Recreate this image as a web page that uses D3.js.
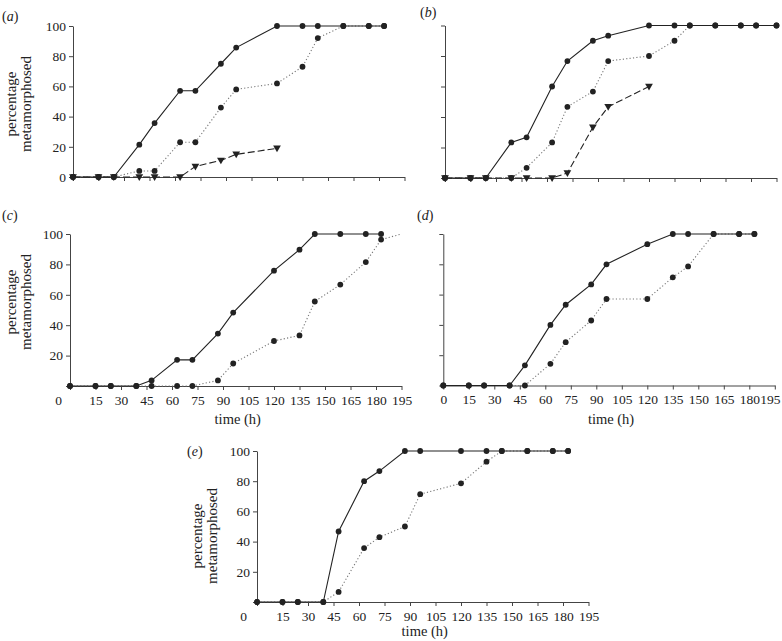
<!DOCTYPE html>
<html>
<head>
<meta charset="utf-8">
<script src="https://cdn.jsdelivr.net/npm/d3@7"></script>
<style>
  body { margin: 0; background: #fff; }
  svg { display: block; }
  text { font-family: "Liberation Serif", "DejaVu Serif", serif; fill: #222; }
</style>
</head>
<body>
<svg id="chart" width="782" height="641"></svg>
<script>
// sampling times (h)
const times = [0, 15, 24, 39, 48, 63, 72, 87, 96, 120, 135, 144, 159, 174, 183];
const timesLong = [0, 15, 24, 39, 48, 63, 72, 87, 96, 120, 135, 144, 159, 174, 183, 195];
const xTicks = [0, 15, 30, 45, 60, 75, 90, 105, 120, 135, 150, 165, 180, 195];
const yTicks = [0, 20, 40, 60, 80, 100];

// percentage metamorphosed
const aSolid  = [0, 0, 0, 21.4, 35.7, 57.1, 57.1, 75, 85.7, 100, 100, 100, 100, 100, 100];
const aDotted = [0, 0, 0, 4, 4, 23, 23, 46, 58, 62, 73, 92, 100, 100, 100];
const aDashed = [0, 0, 0, 0, 0, 0, 7, 11, 15, 19];

const bSolid  = [0, 0, 0, 23.3, 26.7, 60, 76.7, 90, 93.3, 100, 100, 100, 100, 100, 100, 100];
const bDotted = [0, 0, 0, 0, 6.7, 23.3, 46.7, 56.7, 76.7, 80, 90, 100, 100, 100, 100, 100];
const bDashed = [0, 0, 0, 0, 0, 0, 3.3, 33.3, 46.7, 60];

const cSolid  = [0, 0, 0, 0, 3.7, 17.2, 17.2, 34.5, 48.3, 75.9, 89.7, 100, 100, 100, 100];
const cDotted = [0, 0, 0, 0, 0, 0, 0, 3.7, 14.8, 29.6, 33.3, 55.6, 66.7, 81.5, 96.3, 100];

const dSolid  = [0, 0, 0, 0, 13.3, 40, 53.3, 66.7, 80, 93.3, 100, 100, 100, 100, 100];
const dDotted = [0, 0, 0, 0, 0, 14.3, 28.6, 42.9, 57.1, 57.1, 71.4, 78.6, 100, 100, 100];

const eSolid  = [0, 0, 0, 0, 46.7, 80, 86.7, 100, 100, 100, 100, 100, 100, 100, 100];
const eDotted = [0, 0, 0, 0, 6.7, 35.7, 42.9, 50, 71.4, 78.6, 92.9, 100, 100, 100, 100];

const svg = d3.select("#chart");
const ink = "#222";

let zip = (ts, vs) => vs.map((v, i) => ({t: ts[i], v: v}));

let drawPanel = (p) => {
  const g = svg.append("g");
  const x = d3.scaleLinear().domain([0, 195]).range(p.xr);
  const y = d3.scaleLinear().domain([0, 100]).range(p.yr);

  // x axis
  const xAxis = g.append("g")
    .attr("transform", `translate(0,${p.yr[0]})`)
    .call(d3.axisBottom(x).tickValues(xTicks).tickSize(4).tickSizeOuter(0)
      .tickFormat(d => p.xLabels ? d : ""));
  xAxis.select(".domain").attr("stroke", "#444");
  xAxis.selectAll(".tick line").attr("stroke", "#444");
  xAxis.selectAll(".tick text")
    .attr("y", 9).attr("font-size", 13.5).attr("fill", ink)
    .attr("dx", d => d === 0 ? p.zeroShift : (d === 195 ? (p.lastShift || 0) : 0))
    .style("font-family", "Liberation Serif");

  // y axis
  const yAxis = g.append("g")
    .attr("transform", `translate(${p.xr[0]},0)`)
    .call(d3.axisLeft(y).tickValues(yTicks).tickSize(4).tickSizeOuter(0)
      .tickFormat(d => (p.yLabels && (d > 0 || p.yZero)) ? d : ""));
  yAxis.select(".domain").attr("stroke", "#444");
  yAxis.selectAll(".tick line").attr("stroke", "#444");
  yAxis.selectAll(".tick text")
    .attr("x", -7).attr("font-size", 13.5).attr("fill", ink)
    .style("font-family", "Liberation Serif");

  if (p.xLabels) {
    g.append("text")
      .attr("x", (p.xr[0] + p.xr[1]) / 2 + 2)
      .attr("y", p.yr[0] + p.titleGap)
      .attr("text-anchor", "middle")
      .attr("font-size", 14.5)
      .text("time (h)");
  }
  if (p.yLabels) {
    ["percentage", "metamorphosed"].forEach((s, i) => {
      g.append("text")
        .attr("transform", `translate(${p.tx + i * 15},${p.ty}) rotate(-90)`)
        .attr("text-anchor", "middle")
        .attr("font-size", 15)
        .text(s);
    });
  }

  // panel letter
  const lab = g.append("text").attr("x", p.lx).attr("y", p.ly).attr("font-size", 14);
  lab.append("tspan").text("(");
  lab.append("tspan").attr("font-style", "italic").text(p.letter);
  lab.append("tspan").text(")");

  const line = d3.line().x(d => x(d.t)).y(d => y(d.v));

  p.series.forEach(s => {
    g.append("path")
      .datum(s.data)
      .attr("fill", "none")
      .attr("stroke", s.style === "dotted" ? "#777" : ink)
      .attr("stroke-width", 1.1)
      .attr("stroke-dasharray", s.style === "dotted" ? "1.2,2.2" : s.style === "dashed" ? "7,3" : null)
      .attr("d", line);
  });

  p.series.forEach(s => {
    const pts = s.data.filter((d, i) => s.markUpTo === undefined || i < s.markUpTo);
    if (s.marker === "tri") {
      g.selectAll(null).data(pts).enter().append("path")
        .attr("d", d3.symbol().type(d3.symbolTriangle).size(26))
        .attr("transform", d => `translate(${x(d.t)},${y(d.v) - 0.5}) rotate(180)`)
        .attr("fill", ink);
    } else {
      g.selectAll(null).data(pts).enter().append("circle")
        .attr("cx", d => x(d.t))
        .attr("cy", d => y(d.v))
        .attr("r", 2.9)
        .attr("fill", ink);
    }
  });
};

drawPanel({
  letter: "a", lx: 2, ly: 21, xr: [73, 404.5], yr: [177, 26],
  xLabels: false, yLabels: true, yZero: true, tx: 16, ty: 104, zeroShift: 0,
  series: [
    {style: "dotted", data: zip(times, aDotted)},
    {style: "dashed", marker: "tri", data: zip(times, aDashed)},
    {style: "solid", data: zip(times, aSolid)}
  ]
});

drawPanel({
  letter: "b", lx: 420, ly: 17, xr: [445, 776.5], yr: [178, 25.5],
  xLabels: false, yLabels: false, zeroShift: 0,
  series: [
    {style: "dotted", data: zip(timesLong, bDotted)},
    {style: "dashed", marker: "tri", data: zip(timesLong, bDashed)},
    {style: "solid", data: zip(timesLong, bSolid)}
  ]
});

drawPanel({
  letter: "c", lx: 2, ly: 220, xr: [70, 401.5], yr: [386, 234],
  xLabels: true, yLabels: true, yZero: false, tx: 16, ty: 302, zeroShift: -12, titleGap: 38,
  series: [
    {style: "dotted", data: zip(timesLong, cDotted), markUpTo: 15},
    {style: "solid", data: zip(times, cSolid)}
  ]
});

drawPanel({
  letter: "d", lx: 417, ly: 220, xr: [443.3, 774.8], yr: [385.5, 234],
  xLabels: true, yLabels: false, zeroShift: 0, lastShift: -5, titleGap: 38,
  series: [
    {style: "dotted", data: zip(times, dDotted)},
    {style: "solid", data: zip(times, dSolid)}
  ]
});

drawPanel({
  letter: "e", lx: 187, ly: 456, xr: [257, 588.5], yr: [602, 451],
  xLabels: true, yLabels: true, yZero: false, tx: 202, ty: 536, zeroShift: -14, titleGap: 34,
  series: [
    {style: "dotted", data: zip(times, eDotted)},
    {style: "solid", data: zip(times, eSolid)}
  ]
});
</script>
</body>
</html>
